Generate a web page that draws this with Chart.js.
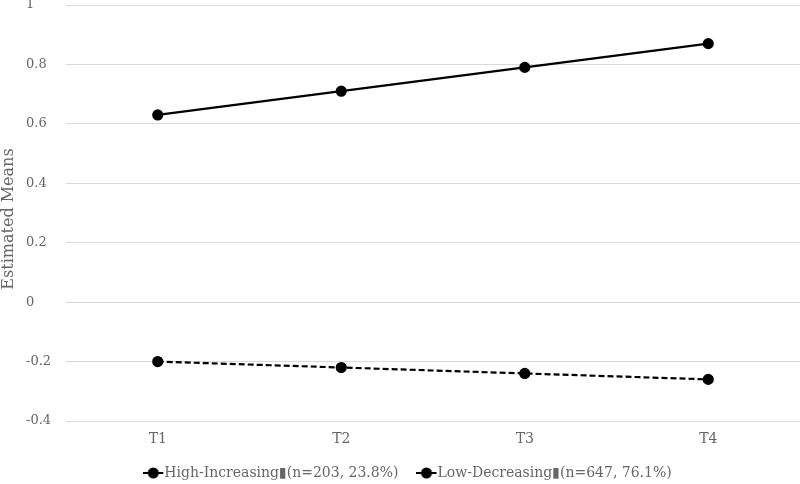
<!DOCTYPE html>
<html><head><meta charset="utf-8">
<script src="https://cdn.jsdelivr.net/npm/chart.js@4/dist/chart.umd.min.js"></script>
<style>html,body{margin:0;padding:0;background:#fff}</style>
</head><body><canvas id="c" width="800" height="484"></canvas>
<script>
const categories = ['T1','T2','T3','T4'];
const highIncreasing = [0.63, 0.71, 0.79, 0.87];
const lowDecreasing = [-0.20, -0.22, -0.24, -0.26];
const seriesLabels = ['High-Increasing\u25AE(n=203, 23.8%)', 'Low-Decreasing\u25AE(n=647, 76.1%)'];
const yTitle = 'Estimated Means';

// keep the legend box compact while using wide horizontal padding between items
const LEGEND_H = 24, LEGEND_SHIFT = 23;
if (Chart.Legend && Chart.Legend._element) {
  const proto = Chart.Legend._element.prototype;
  const origFit = proto.fit, origDraw = proto.draw;
  proto.fit = function(){
    origFit.call(this);
    if (this.isHorizontal()) { this.height = LEGEND_H; }
  };
  proto.draw = function(){
    const t = this.top;
    this.top = t - LEGEND_SHIFT;
    origDraw.call(this);
    this.top = t;
  };
}

function legendIcon(){
  const c = document.createElement('canvas');
  c.width = 25; c.height = 12;
  const x = c.getContext('2d');
  x.strokeStyle = '#000'; x.lineWidth = 2;
  x.beginPath(); x.moveTo(0,6); x.lineTo(20,6); x.stroke();
  x.fillStyle = '#000';
  x.beginPath(); x.arc(10,6,5.5,0,Math.PI*2); x.fill();
  return c;
}
const icon = legendIcon();
const F = 'DejaVu Serif';
const GREY = '#666666';
const yTitlePlugin = {
  id:'yTitle',
  afterDraw(chart){
    const {ctx} = chart;
    ctx.save();
    ctx.fillStyle = GREY;
    ctx.font = '16px "' + F + '"';
    ctx.textAlign = 'center'; ctx.textBaseline = 'middle';
    ctx.translate(9, 219);
    ctx.rotate(-Math.PI/2);
    ctx.fillText(yTitle, 0, 0);
    ctx.restore();
  }
};
new Chart(document.getElementById('c'), {
  type: 'line',
  data: {
    labels: categories,
    datasets: [
      {label: seriesLabels[0], data: highIncreasing, borderColor:'#000', backgroundColor:'#000', borderWidth:2.2, pointRadius:4.5, pointStyle:'circle', pointBackgroundColor:'#000'},
      {label: seriesLabels[1], data: lowDecreasing, borderColor:'#000', backgroundColor:'#000', borderWidth:2.2, borderDash:[6,3], pointRadius:4.5, pointStyle:'circle', pointBackgroundColor:'#000'}
    ]
  },
  plugins:[yTitlePlugin],
  options: {
    responsive:false, animation:false, devicePixelRatio:1,
    layout:{autoPadding:false, padding:{top:5,right:0,left:26,bottom:0}},
    plugins:{
      legend:{position:'bottom', labels:{color:GREY, font:{family:F,size:14}, usePointStyle:true, boxHeight:12, pointStyleWidth:3, padding:29,
        generateLabels(chart){
          const items = Chart.defaults.plugins.legend.labels.generateLabels(chart);
          items.forEach(i=>{i.pointStyle = icon;});
          return items;
        }}},
      tooltip:{enabled:false}
    },
    scales:{
      x:{offset:true, grid:{display:false, drawTicks:false}, border:{display:false},
        afterFit(s){s.height = 39; s.paddingLeft = 0; s.paddingRight = 0;},
        ticks:{color:GREY, font:{family:F,size:14}, padding:10}},
      y:{min:-0.4, max:1, afterFit(s){s.width = 40; s.paddingTop = 0; s.paddingBottom = 0;},
        ticks:{stepSize:0.2, color:GREY, font:{family:F,size:13}, crossAlign:'far', padding:10,
          callback:v=>String(Math.round(v*10)/10)},
        grid:{color:'#d9d9d9', drawTicks:false}, border:{display:false}}
    }
  }
});
</script>
</body></html>
